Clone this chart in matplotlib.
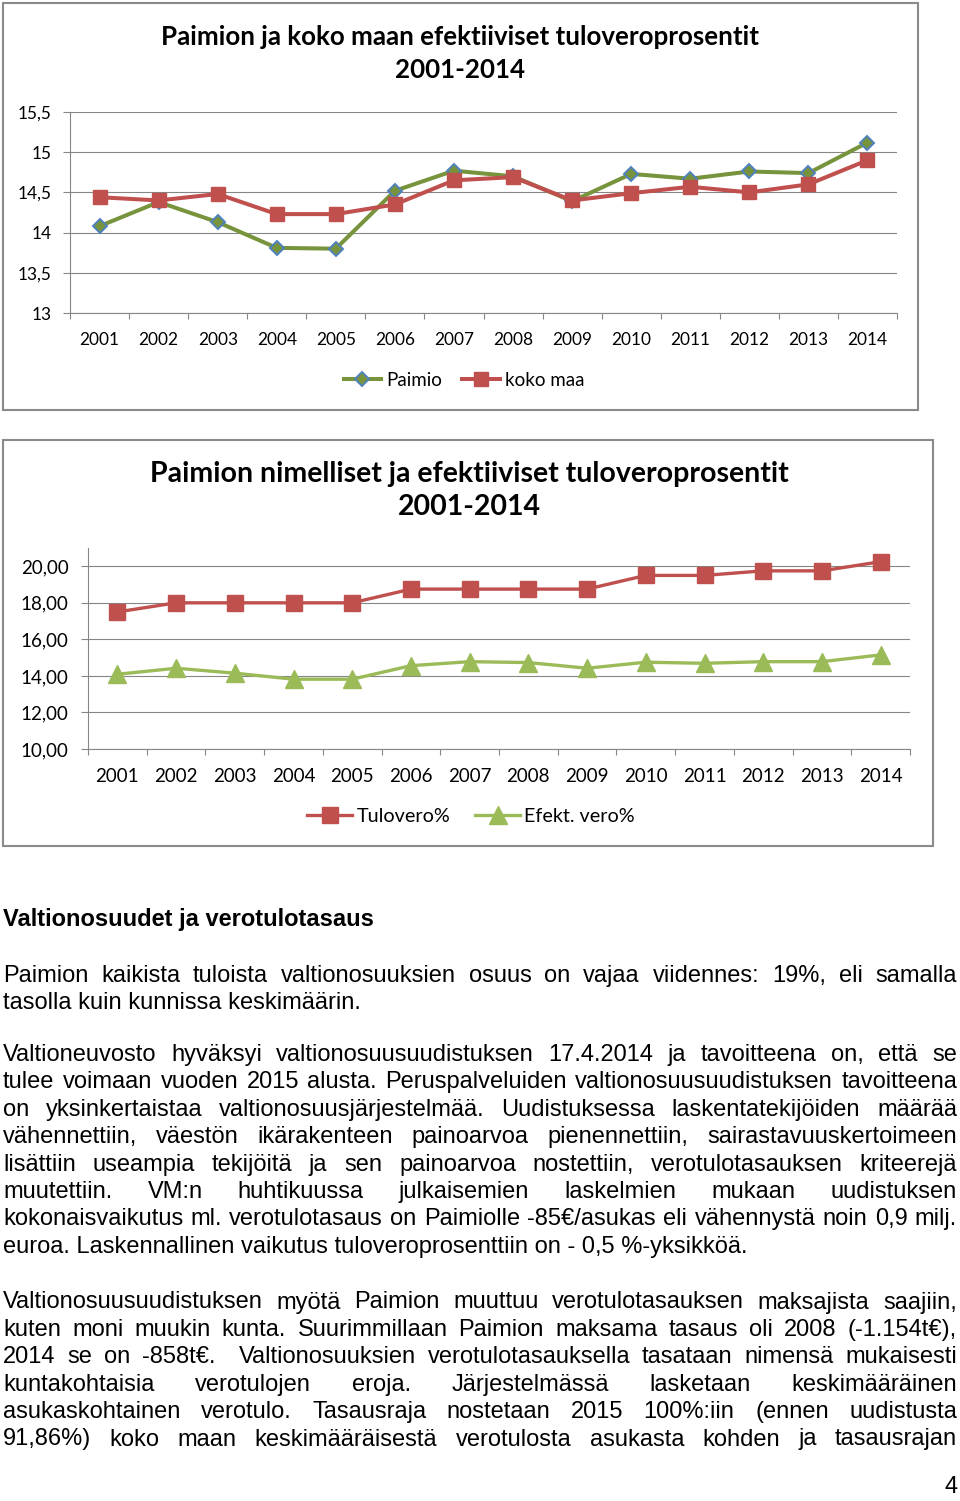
import numpy as np
import matplotlib
matplotlib.use('Agg')
import matplotlib.pyplot as plt
from matplotlib.patches import Rectangle
from matplotlib.ticker import FuncFormatter

# ---------------------
# data read from the page

years = [str(y) for y in range(2001, 2015)]
paimio = [14.08, 14.38, 14.13, 13.81, 13.80, 14.52, 14.77, 14.70, 14.39, 14.73, 14.67, 14.76, 14.74, 15.12]
koko_maa = [14.44, 14.40, 14.48, 14.23, 14.23, 14.35, 14.65, 14.69, 14.40, 14.49, 14.57, 14.50, 14.60, 14.90]
tulovero = [17.50, 18.00, 18.00, 18.00, 18.00, 18.75, 18.75, 18.75, 18.75, 19.50, 19.50, 19.75, 19.75, 20.25]
efekt = [14.09, 14.42, 14.15, 13.82, 13.82, 14.56, 14.78, 14.73, 14.42, 14.75, 14.69, 14.78, 14.78, 15.15]

title1 = ['Paimion ja koko maan efektiiviset tuloveroprosentit', '2001-2014']
title2 = ['Paimion nimelliset ja efektiiviset tuloveroprosentit', '2001-2014']

heading = 'Valtionosuudet ja verotulotasaus'
par1 = ['Paimion kaikista tuloista valtionosuuksien osuus on vajaa viidennes: 19%, eli samalla',
        'tasolla kuin kunnissa keskimäärin.']
par2 = ['Valtioneuvosto hyväksyi valtionosuusuudistuksen 17.4.2014 ja tavoitteena on, että se',
        'tulee voimaan vuoden 2015 alusta. Peruspalveluiden valtionosuusuudistuksen tavoitteena',
        'on yksinkertaistaa valtionosuusjärjestelmää. Uudistuksessa laskentatekijöiden määrää',
        'vähennettiin, väestön ikärakenteen painoarvoa pienennettiin, sairastavuuskertoimeen',
        'lisättiin useampia tekijöitä ja sen painoarvoa nostettiin, verotulotasauksen kriteerejä',
        'muutettiin. VM:n huhtikuussa julkaisemien laskelmien mukaan uudistuksen',
        'kokonaisvaikutus ml. verotulotasaus on Paimiolle -85€/asukas eli vähennystä noin 0,9 milj.',
        'euroa. Laskennallinen vaikutus tuloveroprosenttiin on - 0,5 %-yksikköä.']
par3 = ['Valtionosuusuudistuksen myötä Paimion muuttuu verotulotasauksen maksajista saajiin,',
        'kuten moni muukin kunta. Suurimmillaan Paimion maksama tasaus oli 2008 (-1.154t€),',
        '2014 se on -858t€.  Valtionosuuksien verotulotasauksella tasataan nimensä mukaisesti',
        'kuntakohtaisia verotulojen eroja. Järjestelmässä lasketaan keskimääräinen',
        'asukaskohtainen verotulo. Tasausraja nostetaan 2015 100%:iin (ennen uudistusta',
        '91,86%) koko maan keskimääräisestä verotulosta asukasta kohden ja tasausrajan']

# ---------------------

W, H = 960, 1501
red = '#C0504D'
green1 = '#77933C'
green2 = '#9BBB59'
blue = '#4F81BD'
grid_c = '#868686'
chart_font = 'Lato'
body_font = 'Liberation Sans'

fig = plt.figure(figsize=(W / 100, H / 100), dpi=100)
page = fig.add_axes([0, 0, 1, 1], zorder=0)
page.set_xlim(0, W)
page.set_ylim(H, 0)
page.axis('off')


def px_axes(left, top, right, bottom):
    return fig.add_axes([left / W, 1 - bottom / H, (right - left) / W, (bottom - top) / H], zorder=2)


def style_axes(ax, n, ylim, yticks, fmt, fs, xpad, ypad):
    ax.set_facecolor('none')
    ax.set_xlim(-0.5, n - 0.5)
    ax.set_ylim(*ylim)
    ax.set_yticks(yticks)
    ax.yaxis.set_major_formatter(FuncFormatter(fmt))
    ax.set_xticks(np.arange(n))
    ax.set_xticklabels(years)
    ax.set_xticks(np.arange(-0.5, n, 1), minor=True)
    ax.tick_params(axis='x', which='major', length=0, pad=xpad, labelsize=fs)
    ax.tick_params(axis='x', which='minor', length=4.5, color=grid_c, width=0.8)
    ax.tick_params(axis='y', length=5, color=grid_c, width=0.8, pad=ypad, labelsize=fs)
    for lab in ax.get_xticklabels() + ax.get_yticklabels():
        lab.set_family(chart_font)
    ax.grid(axis='y', color=grid_c, lw=0.8)
    ax.set_axisbelow(True)
    for s in ['top', 'right']:
        ax.spines[s].set_visible(False)
    for s in ['left', 'bottom']:
        ax.spines[s].set_color(grid_c)
        ax.spines[s].set_linewidth(0.8)


# chart frames
page.add_patch(Rectangle((3, 3), 915, 407, fill=False, ec='#8a8a8a', lw=1.5))
page.add_patch(Rectangle((3, 440), 930, 406, fill=False, ec='#8a8a8a', lw=1.5))

# ---------------------
# chart 1

x = np.arange(len(years))
ax1 = px_axes(70, 112, 897, 313)
ax1.plot(x, paimio, color=green1, lw=2.9, marker='D', ms=7, mfc=green1, mec=blue, mew=1.4,
         label='Paimio', clip_on=False)
ax1.plot(x, koko_maa, color=red, lw=2.9, marker='s', ms=10, mfc=red, mec=red,
         label='koko maa', clip_on=False)
style_axes(ax1, len(years), (13, 15.5), np.arange(13, 15.51, 0.5),
           lambda v, p: f'{v:g}'.replace('.', ','), 12.4, 14, 8)
for i, line in enumerate(title1):
    page.text(460, 37 + 33 * i, line, ha='center', va='center', fontsize=18.6,
              fontweight='bold', family=chart_font)
ax1.legend(loc='center', bbox_to_anchor=(464 / W, 1 - 380 / H), bbox_transform=fig.transFigure,
           ncol=2, frameon=False, prop={'family': chart_font, 'size': 13.5},
           handlelength=2.0, handletextpad=0.27, columnspacing=1.07)

# ---------------------
# chart 2

ax2 = px_axes(88, 548, 910, 749)
ax2.plot(x, tulovero, color=red, lw=2.4, marker='s', ms=12, mfc=red, mec=red,
         label='Tulovero%', clip_on=False)
ax2.plot(x, efekt, color=green2, lw=2.4, marker='^', ms=13, mfc=green2, mec=green2,
         label='Efekt. vero%', clip_on=False)
style_axes(ax2, len(years), (10, 21), np.arange(10, 20.01, 2),
           lambda v, p: f'{v:.2f}'.replace('.', ','), 13.5, 14, 9)
for i, line in enumerate(title2):
    page.text(469, 474 + 33 * i, line, ha='center', va='center', fontsize=20.5,
              fontweight='bold', family=chart_font)
ax2.legend(loc='center', bbox_to_anchor=(471 / W, 1 - 816 / H), bbox_transform=fig.transFigure,
           ncol=2, frameon=False, prop={'family': chart_font, 'size': 14.2},
           handlelength=2.3, handletextpad=0.2, columnspacing=1.27)

# ---------------------
# text below the charts

renderer = fig.canvas.get_renderer()
body_fs = 17
x_left, x_right = 3, 957


def text_width(s, **kw):
    if not s:
        return 0.0
    t = page.text(0, 0, s, **kw)
    w = t.get_window_extent(renderer).width
    t.remove()
    return w


def put_line(line, y, justify=True, **kw):
    if not justify:
        page.text(x_left, y, line, va='baseline', ha='left', **kw)
        return
    words = line.split(' ')
    widths = [text_width(w, **kw) for w in words]
    gap = (x_right - x_left - sum(widths)) / (len(words) - 1)
    xp = x_left
    for w, wd in zip(words, widths):
        if w:
            page.text(xp, y, w, va='baseline', ha='left', **kw)
        xp += wd + gap


body = dict(fontsize=body_fs, family=body_font, color='black')
page.text(x_left, 926, heading, va='baseline', ha='left', fontsize=body_fs,
          fontweight='bold', family=body_font)


def put_par(lines, y0, last_justified=False):
    for i, line in enumerate(lines):
        last = i == len(lines) - 1
        put_line(line, y0 + 27.4 * i, justify=(not last) or last_justified, **body)


put_par(par1, 982)
put_par(par2, 1061)
put_par(par3, 1308.5, last_justified=True)
page.text(958, 1493, '4', va='baseline', ha='right', **body)

fig.savefig('out.png', dpi=100)
